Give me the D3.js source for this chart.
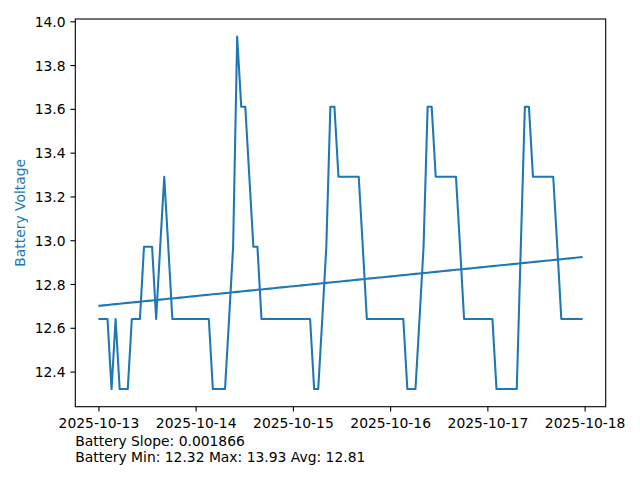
<!DOCTYPE html>
<html>
<head>
<meta charset="utf-8">
<script src="https://cdn.jsdelivr.net/npm/d3@7"></script>
<style>
  html, body { margin: 0; padding: 0; background: #fff; }
  svg { display: block; }
  text { font-family: "DejaVu Sans", sans-serif; }
</style>
</head>
<body>
<svg id="chart" width="640" height="480"></svg>
<script>
// ---- data ----
const startTime = "2025-10-13T00:15:00Z"; // first hourly sample
const stepHours = 1;
const voltages = [
  12.64,12.64,12.64,12.32,12.64,12.32,12.32,12.32,12.64,12.64,
  12.64,12.97,12.97,12.97,12.64,12.97,13.29,12.97,12.64,12.64,
  12.64,12.64,12.64,12.64,12.64,12.64,12.64,12.64,12.32,12.32,
  12.32,12.32,12.64,12.97,13.93,13.61,13.61,13.29,12.97,12.97,
  12.64,12.64,12.64,12.64,12.64,12.64,12.64,12.64,12.64,12.64,
  12.64,12.64,12.64,12.32,12.32,12.64,12.97,13.61,13.61,13.29,
  13.29,13.29,13.29,13.29,13.29,12.97,12.64,12.64,12.64,12.64,
  12.64,12.64,12.64,12.64,12.64,12.64,12.32,12.32,12.32,12.64,
  12.97,13.61,13.61,13.29,13.29,13.29,13.29,13.29,13.29,12.97,
  12.64,12.64,12.64,12.64,12.64,12.64,12.64,12.64,12.32,12.32,
  12.32,12.32,12.32,12.32,12.97,13.61,13.61,13.29,13.29,13.29,
  13.29,13.29,13.29,12.97,12.64,12.64,12.64,12.64,12.64,12.64
];
const trendSlopePerHour = 0.001866;
const xTickLabels = ["2025-10-13","2025-10-14","2025-10-15","2025-10-16","2025-10-17","2025-10-18"];
const yTickValues = [12.4,12.6,12.8,13.0,13.2,13.4,13.6,13.8,14.0];
const yLabel = "Battery Voltage";
const infoLines = ["Battery Slope: 0.001866", "Battery Min: 12.32 Max: 13.93 Avg: 12.81"];

// ---- layout ----
const C = "#1f77b4";
const FS = 13.89;
const ax = { left: 75.3, right: 605.7, top: 19, bottom: 406.7 };

const t0 = new Date(startTime);
const points = voltages.map((v, i) => ({ t: d3.utcHour.offset(t0, i * stepHours), h: i * stepHours, v }));

const svg = d3.select("#chart");

const tExt = d3.extent(points, d => d.t);
const span = tExt[1] - tExt[0];
const x = d3.scaleUtc()
  .domain([new Date(+tExt[0] - 0.05 * span), new Date(+tExt[1] + 0.05 * span)])
  .range([ax.left, ax.right]);

const vMin = d3.min(voltages), vMax = d3.max(voltages);
const vSpan = vMax - vMin;
const y = d3.scaleLinear()
  .domain([vMin - 0.05 * vSpan, vMax + 0.05 * vSpan])
  .range([ax.bottom, ax.top]);

// plot clip
svg.append("defs").append("clipPath").attr("id", "clip")
  .append("rect").attr("x", ax.left).attr("y", ax.top)
  .attr("width", ax.right - ax.left).attr("height", ax.bottom - ax.top);

const g = svg.append("g").attr("clip-path", "url(#clip)");

const line = d3.line().x(d => x(d.t)).y(d => y(d.v));
g.append("path").datum(points)
  .attr("d", line)
  .attr("fill", "none").attr("stroke", C).attr("stroke-width", 2.08)
  .attr("stroke-linejoin", "round").attr("stroke-linecap", "square");

// trend line using stated slope, through the data mean
const meanH = d3.mean(points, d => d.h);
const meanV = d3.mean(voltages);
const intercept = meanV - trendSlopePerHour * meanH;
const trend = points.map(d => ({ t: d.t, v: intercept + trendSlopePerHour * d.h }));
g.append("path").datum(trend)
  .attr("d", line)
  .attr("fill", "none").attr("stroke", C).attr("stroke-width", 2.08)
  .attr("stroke-linecap", "square");

// x axis
const xTicks = xTickLabels.map(s => new Date(s + "T00:00:00Z"));
const xAxis = d3.axisBottom(x).tickValues(xTicks)
  .tickFormat((d, i) => xTickLabels[i]).tickSize(4.86).tickPadding(4.86);
const xg = svg.append("g").attr("transform", `translate(0,${ax.bottom})`).call(xAxis);
xg.select(".domain").remove();
xg.selectAll(".tick line").attr("stroke", "#000").attr("stroke-width", 1.1);
xg.selectAll(".tick text").attr("fill", "#000").attr("font-size", FS)
  .attr("font-family", "DejaVu Sans").attr("dy", null).attr("y", 21.3);

// y axis
const yAxis = d3.axisLeft(y).tickValues(yTickValues)
  .tickFormat(d3.format(".1f")).tickSize(4.86).tickPadding(4.86);
const yg = svg.append("g").attr("transform", `translate(${ax.left},0)`).call(yAxis);
yg.select(".domain").remove();
yg.selectAll(".tick line").attr("stroke", "#000").attr("stroke-width", 1.1);
yg.selectAll(".tick text").attr("fill", "#000").attr("font-size", FS)
  .attr("font-family", "DejaVu Sans").attr("dy", "0.36em");

// frame
svg.append("rect").attr("x", ax.left).attr("y", ax.top)
  .attr("width", ax.right - ax.left).attr("height", ax.bottom - ax.top)
  .attr("fill", "none").attr("stroke", "#000").attr("stroke-width", 1.1);

// y label
svg.append("text")
  .attr("transform", `translate(25.3,${(ax.top + ax.bottom) / 2}) rotate(-90)`)
  .attr("text-anchor", "middle").attr("fill", C).attr("font-size", FS)
  .text(yLabel);

// info text
svg.selectAll("text.info").data(infoLines).enter().append("text")
  .attr("class", "info")
  .attr("x", ax.left).attr("y", (d, i) => 445.6 + i * 16.2)
  .attr("fill", "#000").attr("font-size", FS)
  .text(d => d);
</script>
</body>
</html>
